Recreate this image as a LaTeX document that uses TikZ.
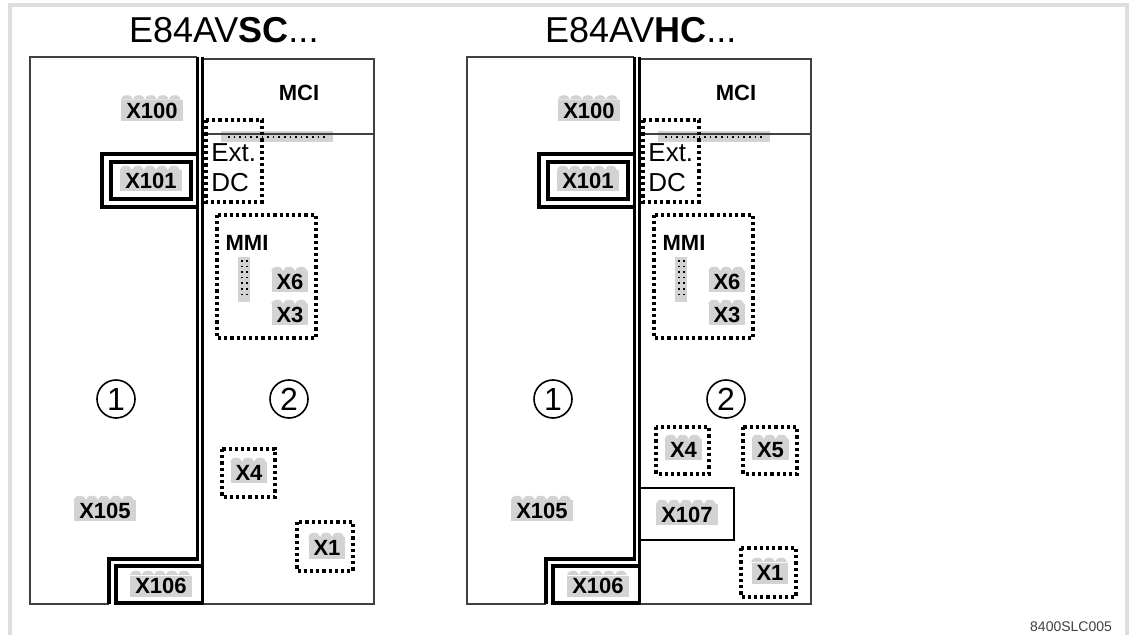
\documentclass[tikz,border=0pt]{standalone}
\usepackage{fontspec}
\setmainfont{Liberation Sans}
\usetikzlibrary{decorations.pathmorphing}

\definecolor{plugfill}{RGB}{211,211,211}
\definecolor{framegray}{RGB}{222,222,222}

\tikzset{
	housing/.style={draw=black!75, line width=0.7pt},
	wall/.style={line width=1.7pt},
	dotbox/.style={line width=1.6pt, dash pattern=on 1.6pt off 1.5pt},
	pinrow/.style={dotted, line width=0.8pt},
	plug/.style={fill=plugfill, font=\bfseries\fontsize{11}{12}\selectfont, inner xsep=2.5pt, inner ysep=0pt, minimum height=10.5pt},
	plugbumps/.style={fill=plugfill, decoration={bumps, segment length=12pt, amplitude=2.2pt}},
	zone/.style={circle, draw, line width=0.8pt, minimum size=19pt, inner sep=0pt, font=\fontsize{16}{16}\selectfont},
	heading/.style={anchor=west, font=\fontsize{18}{20}\selectfont},
	boldlabel/.style={font=\bfseries\fontsize{11}{12}\selectfont},
	extlabel/.style={anchor=west, align=left, font=\fontsize{13}{15}\selectfont, inner sep=0pt}
}

\newcommand{\plug}[3]{%
	\node[plug] (#1) at (#2) {#3};
	\fill[plugbumps] (#1.north west) decorate {-- (#1.north east)} -- cycle;
}

\begin{document}
\begin{tikzpicture}[x=0.5pt, y=-0.5pt]
	\useasboundingbox (0,0) rectangle (1129,635);
	% frame
	\draw[framegray, line width=2pt] (10,635) -- (10,5) -- (1127,5) -- (1127,635);
	
	% titles
	\node[heading] (sc-title) at (122,30) {E84AV\textbf{SC}...};
	\node[heading] (hc-title) at (538,30) {E84AV\textbf{HC}...};
	
	% E84AVSC
	\begin{scope}
		\draw[housing] (197,57) -- (30,57) -- (30,604) -- (109,604);
		\draw[housing] (202,59) -- (374,59) -- (374,604) -- (202,604);
		\fill[plugfill] (221,131) rectangle (333,142);
		\draw[pinrow] (228,137) -- (327,137);
		\draw[housing] (202,134) -- (374,134);
		
		\draw[wall] (197.5,57) -- (197.5,559) -- (109,559) -- (109,604);
		\draw[wall] (202.5,57) -- (202.5,604);
		\draw[wall] (116,566) rectangle (202.5,603);
		\draw[wall] (102,154) rectangle (197.5,207);
		\draw[wall] (111,162) rectangle (191,199);
		
		\node[boldlabel] (sc-mci) at (299,93) {MCI};
		\draw[dotbox] (206,120) rectangle (262,202);
		\node[extlabel] (sc-ext) at (211,168) {Ext.\\DC};
		
		\draw[dotbox] (217,215) rectangle (316,338);
		\node[boldlabel] (sc-mmi) at (247,243) {MMI};
		\fill[plugfill] (238,257) rectangle (250,302);
		\draw[pinrow] (242,260) -- (242,298);
		\draw[pinrow] (247,260) -- (247,298);
		
		\draw[dotbox] (222,449) rectangle (275,497);
		\draw[dotbox] (297,522) rectangle (353,571);
		
		\plug{sc-x100}{152,110.5}{X100}
		\plug{sc-x101}{151,181}{X101}
		\plug{sc-x6}{290,282}{X6}
		\plug{sc-x3}{290,315}{X3}
		\plug{sc-x105}{105,511}{X105}
		\plug{sc-x106}{161,586}{X106}
		\plug{sc-x4}{249,473}{X4}
		\plug{sc-x1}{327,548}{X1}
		
		\node[zone] (sc-z1) at (116,399) {1};
		\node[zone] (sc-z2) at (289,399) {2};
	\end{scope}
	
	% E84AVHC
	\begin{scope}[shift={(437,0)}]
		\draw[housing] (197,57) -- (30,57) -- (30,604) -- (109,604);
		\draw[housing] (202,59) -- (374,59) -- (374,604) -- (202,604);
		\fill[plugfill] (221,131) rectangle (333,142);
		\draw[pinrow] (228,137) -- (327,137);
		\draw[housing] (202,134) -- (374,134);
		
		\draw[wall] (197.5,57) -- (197.5,559) -- (109,559) -- (109,604);
		\draw[wall] (202.5,57) -- (202.5,604);
		\draw[wall] (116,566) rectangle (202.5,603);
		\draw[wall] (102,154) rectangle (197.5,207);
		\draw[wall] (111,162) rectangle (191,199);
		\draw[line width=1.4pt] (202.5,488) -- (297,488) -- (297,540) -- (202.5,540);
		
		\node[boldlabel] (hc-mci) at (299,93) {MCI};
		\draw[dotbox] (206,120) rectangle (262,202);
		\node[extlabel] (hc-ext) at (211,168) {Ext.\\DC};
		
		\draw[dotbox] (217,215) rectangle (316,338);
		\node[boldlabel] (hc-mmi) at (247,243) {MMI};
		\fill[plugfill] (238,257) rectangle (250,302);
		\draw[pinrow] (242,260) -- (242,298);
		\draw[pinrow] (247,260) -- (247,298);
		
		\draw[dotbox] (219,427) rectangle (272,474);
		\draw[dotbox] (306,427) rectangle (360,474);
		\draw[dotbox] (304,548) rectangle (359,597);
		
		\plug{hc-x100}{152,110.5}{X100}
		\plug{hc-x101}{151,181}{X101}
		\plug{hc-x6}{290,282}{X6}
		\plug{hc-x3}{290,315}{X3}
		\plug{hc-x105}{105,511}{X105}
		\plug{hc-x106}{161,586}{X106}
		\plug{hc-x4}{246.5,450}{X4}
		\plug{hc-x5}{333.5,450}{X5}
		\plug{hc-x107}{250,515}{X107}
		\plug{hc-x1}{333,573}{X1}
		
		\node[zone] (hc-z1) at (116,399) {1};
		\node[zone] (hc-z2) at (289,399) {2};
	\end{scope}
	
	\node[anchor=east, text=black!75, font=\fontsize{7}{8}\selectfont] (code) at (1119,627) {8400SLC005};
\end{tikzpicture}
\end{document}
